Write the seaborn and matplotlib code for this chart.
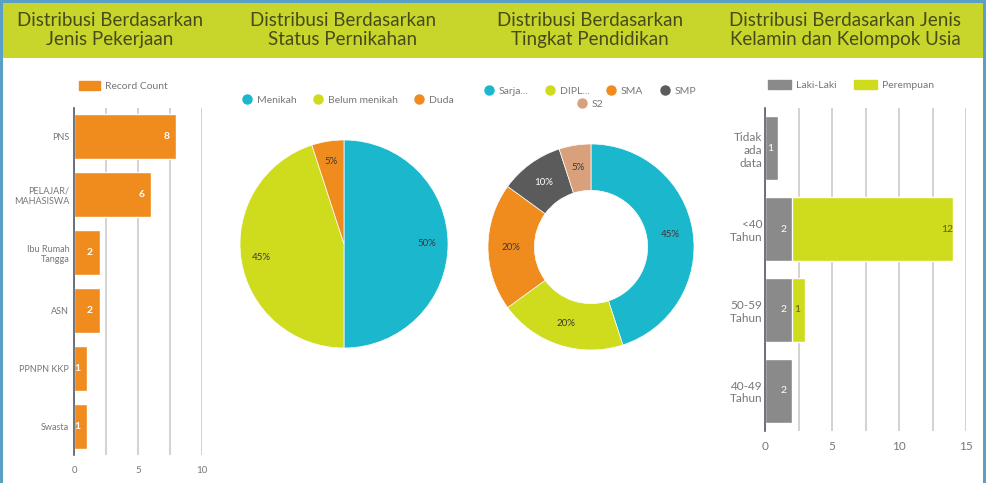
import matplotlib
matplotlib.use('Agg')
import matplotlib.pyplot as plt
from matplotlib.patches import Rectangle, Patch
from matplotlib.lines import Line2D
import seaborn as sns

# data
job_labels = ["PNS", "PELAJAR/\nMAHASISWA", "Ibu Rumah\nTangga", "ASN", "PPNPN KKP", "Swasta"]
job_counts = [8, 6, 2, 2, 1, 1]

marital_labels = ["Menikah", "Belum menikah", "Duda"]
marital_share = [50, 45, 5]

edu_labels = ["Sarja...", "DIPL...", "SMA", "SMP", "S2"]
edu_share = [45, 20, 20, 10, 5]

age_groups = ["Tidak\nada\ndata", "<40\nTahun", "50-59\nTahun", "40-49\nTahun"]
male_counts = [1, 2, 2, 2]
female_counts = [0, 12, 1, 0]

titles = ["Distribusi Berdasarkan\nJenis Pekerjaan",
          "Distribusi Berdasarkan\nStatus Pernikahan",
          "Distribusi Berdasarkan\nTingkat Pendidikan",
          "Distribusi Berdasarkan Jenis\nKelamin dan Kelompok Usia"]

ORANGE = "#f08c1e"
TEAL = "#1bb7cd"
LIME = "#cfdb1d"
GRAY = "#8a8a8a"
DARK = "#5b5b5b"
TAN = "#d9a07c"
BAND = "#c8d52a"
TITLE_C = "#474b1a"
TICK_C = "#777777"
GRID_C = "#cfcfcf"
LEG_FS = 7.5

sns.set_theme(style="white")
plt.rcParams['font.family'] = ['Lato', 'DejaVu Sans']

W, H = 986, 483
fig = plt.figure(figsize=(W / 100, H / 100), dpi=100)
fig.patch.set_facecolor("#5a9fc6")


def fx(px):
    return px / W


def fy(py):
    return 1 - py / H


# card + header band
fig.add_artist(Rectangle((fx(3), 0), fx(980), fy(3), transform=fig.transFigure,
                         facecolor="white", edgecolor="none", zorder=0))
fig.add_artist(Rectangle((fx(3), fy(58)), fx(980), fy(3) - fy(58), transform=fig.transFigure,
                         facecolor=BAND, edgecolor="none", zorder=0))

for cx, t in zip([110, 343, 590, 845], titles):
    fig.text(fx(cx), fy(30), t, ha="center", va="center", fontsize=13.5,
             color=TITLE_C, linespacing=1.2)


def style_bar_axes(ax, xmax, step, labels, ysize, xsize):
    ax.set_xlim(0, xmax)
    ax.set_xticks([v * step for v in range(int(xmax / step) + 1)])
    ax.set_xticks([v * step / 2 for v in range(int(xmax / step * 2) + 1)], minor=True)
    ax.set_yticks(range(len(labels)), labels=labels, multialignment="right")
    ax.grid(axis="x", which="both", color=GRID_C, linewidth=1.3)
    ax.set_axisbelow(True)
    for s in ["top", "right", "bottom"]:
        ax.spines[s].set_visible(False)
    ax.spines["left"].set_color("#555a66")
    ax.spines["left"].set_linewidth(1.2)
    ax.tick_params(axis="both", which="both", length=0, colors=TICK_C)
    ax.tick_params(axis="y", labelsize=ysize)
    ax.tick_params(axis="x", labelsize=xsize)
    ax.set_xlabel("")
    ax.set_ylabel("")
    ax.set_facecolor("none")


# panel 1: jobs
ax1 = fig.add_axes([fx(74), fy(455), fx(128), fy(108) - fy(455)])
sns.barplot(x=job_counts, y=job_labels, color=ORANGE, width=0.78, saturation=1, ax=ax1)
style_bar_axes(ax1, 10, 5, job_labels, 6.5, 7)
ax1.set_ylim(5.5, -0.5)
ax1.tick_params(axis="x", pad=8)
for c in ax1.containers:
    ax1.bar_label(c, label_type="edge", padding=-9, color="white", fontsize=7.5, fontweight="bold")
ax1.legend(handles=[Patch(color=ORANGE, label="Record Count")], loc="center left",
           bbox_to_anchor=(fx(74), fy(86)), bbox_transform=fig.transFigure,
           frameon=False, fontsize=LEG_FS, labelcolor=TICK_C, handlelength=2.0,
           handleheight=1.0, borderpad=0, handletextpad=0.5)

# panel 2: marital status pie
ax2 = fig.add_axes([fx(240), fy(348), fx(208), fy(140) - fy(348)])
ax2.pie(marital_share, colors=[TEAL, LIME, ORANGE], startangle=90, counterclock=False,
        autopct="%d%%", pctdistance=0.8, radius=1,
        textprops=dict(fontsize=7, color="#3a3a3a"),
        wedgeprops=dict(linewidth=0.5, edgecolor="white"))
ax2.set_xlim(-1, 1)
ax2.set_ylim(-1, 1)
ax2.legend(handles=[Line2D([], [], marker="o", linestyle="", markersize=6.5, color=c, label=l)
                    for c, l in zip([TEAL, LIME, ORANGE], marital_labels)],
           loc="center left", bbox_to_anchor=(fx(237), fy(100)), bbox_transform=fig.transFigure,
           ncol=3, frameon=False, fontsize=LEG_FS, labelcolor=TICK_C, handlelength=1.0,
           handletextpad=0.4, columnspacing=1.6, borderpad=0)

# panel 3: education donut
edu_colors = [TEAL, LIME, ORANGE, DARK, TAN]
ax3 = fig.add_axes([fx(488), fy(350), fx(206), fy(144) - fy(350)])
wedges, texts, autotexts = ax3.pie(edu_share, colors=edu_colors, startangle=90, counterclock=False,
                                   autopct="%d%%", pctdistance=0.78, radius=1,
                                   textprops=dict(fontsize=7, color="#3a3a3a"),
                                   wedgeprops=dict(width=0.45, linewidth=0.5, edgecolor="white"))
autotexts[3].set_color("white")
ax3.set_xlim(-1, 1)
ax3.set_ylim(-1, 1)
edu_handles = [Line2D([], [], marker="o", linestyle="", markersize=6.5, color=c, label=l)
               for c, l in zip(edu_colors, edu_labels)]
leg3 = ax3.legend(handles=edu_handles[:4], loc="center", bbox_to_anchor=(fx(590), fy(91)),
                  bbox_transform=fig.transFigure, ncol=4, frameon=False, fontsize=LEG_FS,
                  labelcolor=TICK_C, handlelength=1.0, handletextpad=0.4, columnspacing=1.6,
                  borderpad=0)
ax3.add_artist(leg3)
ax3.legend(handles=edu_handles[4:], loc="center", bbox_to_anchor=(fx(590), fy(104)),
           bbox_transform=fig.transFigure, frameon=False, fontsize=LEG_FS, labelcolor=TICK_C,
           handlelength=1.0, handletextpad=0.4, borderpad=0)

# panel 4: gender x age, stacked
totals = [m + f for m, f in zip(male_counts, female_counts)]
ax4 = fig.add_axes([fx(765), fy(431), fx(201), fy(108) - fy(431)])
sns.barplot(x=totals, y=age_groups, color=LIME, width=0.79, saturation=1, ax=ax4)
sns.barplot(x=male_counts, y=age_groups, color=GRAY, width=0.79, saturation=1, ax=ax4)
style_bar_axes(ax4, 15, 5, age_groups, 8.5, 8.5)
ax4.set_ylim(3.5, -0.5)
ax4.tick_params(axis="x", pad=7)
ax4.tick_params(axis="y", pad=2)
ax4.bar_label(ax4.containers[0], labels=[str(v) if v else "" for v in female_counts],
              label_type="edge", padding=-8, color="#5a5f12", fontsize=7.5)
ax4.bar_label(ax4.containers[1], labels=[str(v) for v in male_counts],
              label_type="edge", padding=-8, color="white", fontsize=7.5)
ax4.legend(handles=[Patch(color=GRAY, label="Laki-Laki"), Patch(color=LIME, label="Perempuan")],
           loc="center left", bbox_to_anchor=(fx(763), fy(85)), bbox_transform=fig.transFigure,
           ncol=2, frameon=False, fontsize=LEG_FS, labelcolor=TICK_C, handlelength=2.2,
           handleheight=1.0, handletextpad=0.5, columnspacing=1.6, borderpad=0)

fig.savefig("out.png", dpi=100, facecolor=fig.get_facecolor())
